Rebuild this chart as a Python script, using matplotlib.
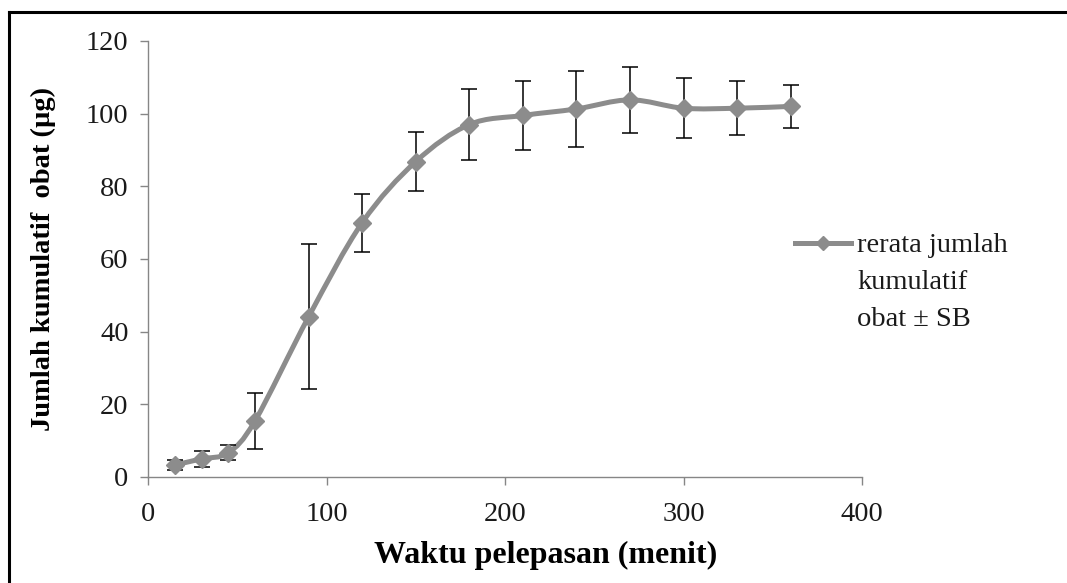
import matplotlib
matplotlib.use('Agg')
import matplotlib.pyplot as plt
from matplotlib.path import Path
from matplotlib.patches import PathPatch
from matplotlib.lines import Line2D

# release data (minutes vs cumulative drug, ug)
time_min = [15, 30, 45, 60, 90, 120, 150, 180, 210, 240, 270, 300, 330, 360]
mean_ug = [3.3, 5.0, 6.7, 15.5, 44.1, 70.0, 86.8, 97.0, 99.5, 101.3, 103.8, 101.5, 101.5, 102.0]
sd_ug = [1.5, 2.2, 2.1, 7.7, 19.9, 8.0, 8.1, 9.8, 9.5, 10.5, 9.0, 8.2, 7.5, 6.0]

x_ticks = [0, 100, 200, 300, 400]
y_ticks = [0, 20, 40, 60, 80, 100, 120]
legend_lines = ['rerata jumlah', 'kumulatif', 'obat ± SB']

GRAY = '#8c8c8c'
AXIS_GRAY = '#868686'
W, H = 1067, 583


def smooth_path(xs, ys):
    # excel style smoothed line, bezier segments between the points
    verts = [(xs[0], ys[0])]
    codes = [Path.MOVETO]
    n = len(xs)
    for i in range(n - 1):
        x0, y0 = xs[max(i - 1, 0)], ys[max(i - 1, 0)]
        x1, y1 = xs[i], ys[i]
        x2, y2 = xs[i + 1], ys[i + 1]
        x3, y3 = xs[min(i + 2, n - 1)], ys[min(i + 2, n - 1)]
        c1 = (x1 + (x2 - x0) / 6, y1 + (y2 - y0) / 6)
        c2 = (x2 - (x3 - x1) / 6, y2 - (y3 - y1) / 6)
        verts += [c1, c2, (x2, y2)]
        codes += [Path.CURVE4] * 3
    return Path(verts, codes)


def fx(px):
    return px / W


def fy(py):
    return 1 - py / H


def main():
    plt.rcParams['font.family'] = ['Liberation Serif', 'DejaVu Serif']
    fig = plt.figure(figsize=(10.67, 5.83), dpi=100)
    ax = fig.add_axes([fx(148), fy(477), 714 / W, 436 / H])

    ax.add_patch(PathPatch(smooth_path(time_min, mean_ug), facecolor='none',
                           edgecolor=GRAY, lw=3.6, capstyle='round', zorder=2))
    ax.errorbar(time_min, mean_ug, yerr=sd_ug, fmt='none', ecolor='black',
                elinewidth=1.1, capsize=5.5, capthick=1.1, zorder=3)
    ax.plot(time_min, mean_ug, linestyle='none', marker='D', markersize=9.5,
            color=GRAY, zorder=4)

    ax.set_xlim(0, 400)
    ax.set_ylim(0, 120)
    ax.set_xticks(x_ticks)
    ax.set_yticks(y_ticks)
    for s in ['top', 'right']:
        ax.spines[s].set_visible(False)
    for s in ['left', 'bottom']:
        ax.spines[s].set_color(AXIS_GRAY)
        ax.spines[s].set_linewidth(1.0)
    ax.tick_params(axis='both', colors=AXIS_GRAY, labelcolor='#1a1a1a',
                   labelsize=20.5, length=6, width=1.0, direction='out')
    ax.tick_params(axis='x', pad=12)
    ax.tick_params(axis='y', pad=8)

    fig.text(fx(546), fy(555), 'Waktu pelepasan (menit)', fontsize=23,
             fontweight='bold', ha='center', va='center')
    fig.text(fx(43), fy(259), 'Jumlah kumulatif  obat (µg)', fontsize=20.5,
             fontweight='bold', ha='center', va='center', rotation=90)

    # legend drawn by hand: handle next to first line, text wraps below
    fig.add_artist(Line2D([fx(795), fx(851)], [fy(243), fy(243)], color=GRAY, lw=3.6,
                          transform=fig.transFigure))
    fig.add_artist(Line2D([fx(823)], [fy(243)], color=GRAY, marker='D', markersize=7.5,
                          linestyle='none', transform=fig.transFigure))
    for i, line in enumerate(legend_lines):
        fig.text(fx(857), fy(243 + 36.5 * i), line, fontsize=20.5,
                 ha='left', va='center_baseline', color='#1a1a1a')

    # outer border (only top and left visible in the source image)
    fig.add_artist(Line2D([fx(9), fx(9)], [0, fy(12)], color='black', lw=2.2,
                          transform=fig.transFigure))
    fig.add_artist(Line2D([fx(9), 1], [fy(12), fy(12)], color='black', lw=2.2,
                          transform=fig.transFigure))

    fig.savefig('out.png', dpi=100)


if __name__ == '__main__':
    main()
